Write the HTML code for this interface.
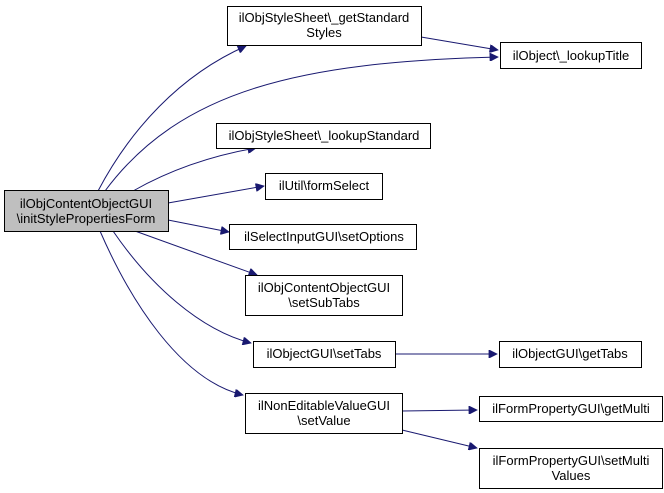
<!DOCTYPE html>
<html><head><meta charset="utf-8"><style>
html,body{margin:0;padding:0;background:#fff;}
svg{display:block;}
text{font-family:"Liberation Sans",Helvetica,Arial,sans-serif;font-size:13px;fill:#000;}
</style></head><body>
<svg width="664" height="493" viewBox="0 0 664 493" xmlns="http://www.w3.org/2000/svg">
<defs>
<marker id="a" viewBox="0 0 10 10" refX="10" refY="5" markerWidth="10" markerHeight="8" markerUnits="userSpaceOnUse" orient="auto">
<path d="M0,0 L10,5 L0,10 z" fill="#191970" stroke="#191970"/>
</marker>
</defs>
<g fill="none" stroke="#191970" stroke-width="1" marker-end="url(#a)">
<path d="M98,191 C130,130 180,75 246,46"/>
<path d="M105,191 C180,90 300,62 498,57"/>
<path d="M133,191 C170,170 210,156 256,148"/>
<path d="M168,203 L264,186"/>
<path d="M168,220 L229,232"/>
<path d="M135,231 L257,275"/>
<path d="M113,231 C150,285 200,330 251,343"/>
<path d="M100,231 C130,300 180,380 243,395"/>
<path d="M421,37 L498,50"/>
<path d="M395,354 L497,354"/>
<path d="M402,411 L477,410"/>
<path d="M402,430 L477,448"/>
</g>
<g stroke="#000" stroke-width="1">
<rect x="4.5" y="190.5" width="164" height="41" fill="#bfbfbf"/>
<rect x="227.5" y="6.5" width="194" height="39" fill="#fff"/>
<rect x="500.5" y="42.5" width="141" height="26" fill="#fff"/>
<rect x="216.5" y="123.5" width="214" height="25" fill="#fff"/>
<rect x="265.5" y="173.5" width="117" height="26" fill="#fff"/>
<rect x="229.5" y="224.5" width="187" height="25" fill="#fff"/>
<rect x="245.5" y="275.5" width="157" height="40" fill="#fff"/>
<rect x="253.5" y="341.5" width="142" height="26" fill="#fff"/>
<rect x="499.5" y="341.5" width="142" height="26" fill="#fff"/>
<rect x="245.5" y="393.5" width="157" height="40" fill="#fff"/>
<rect x="479.5" y="396.5" width="183" height="25" fill="#fff"/>
<rect x="479.5" y="448.5" width="183" height="40" fill="#fff"/>
</g>
<g text-anchor="middle">
<text x="86" y="208">ilObjContentObjectGUI</text>
<text x="86" y="223">\initStylePropertiesForm</text>
<text x="324" y="22">ilObjStyleSheet\_getStandard</text>
<text x="324" y="37">Styles</text>
<text x="571" y="60">ilObject\_lookupTitle</text>
<text x="324" y="140">ilObjStyleSheet\_lookupStandard</text>
<text x="324" y="190">ilUtil\formSelect</text>
<text x="324" y="241">ilSelectInputGUI\setOptions</text>
<text x="324" y="292">ilObjContentObjectGUI</text>
<text x="324" y="307">\setSubTabs</text>
<text x="324" y="358">ilObjectGUI\setTabs</text>
<text x="570" y="358">ilObjectGUI\getTabs</text>
<text x="324" y="410">ilNonEditableValueGUI</text>
<text x="324" y="425">\setValue</text>
<text x="571" y="413">ilFormPropertyGUI\getMulti</text>
<text x="571" y="465">ilFormPropertyGUI\setMulti</text>
<text x="571" y="480">Values</text>
</g>
</svg>
</body></html>
